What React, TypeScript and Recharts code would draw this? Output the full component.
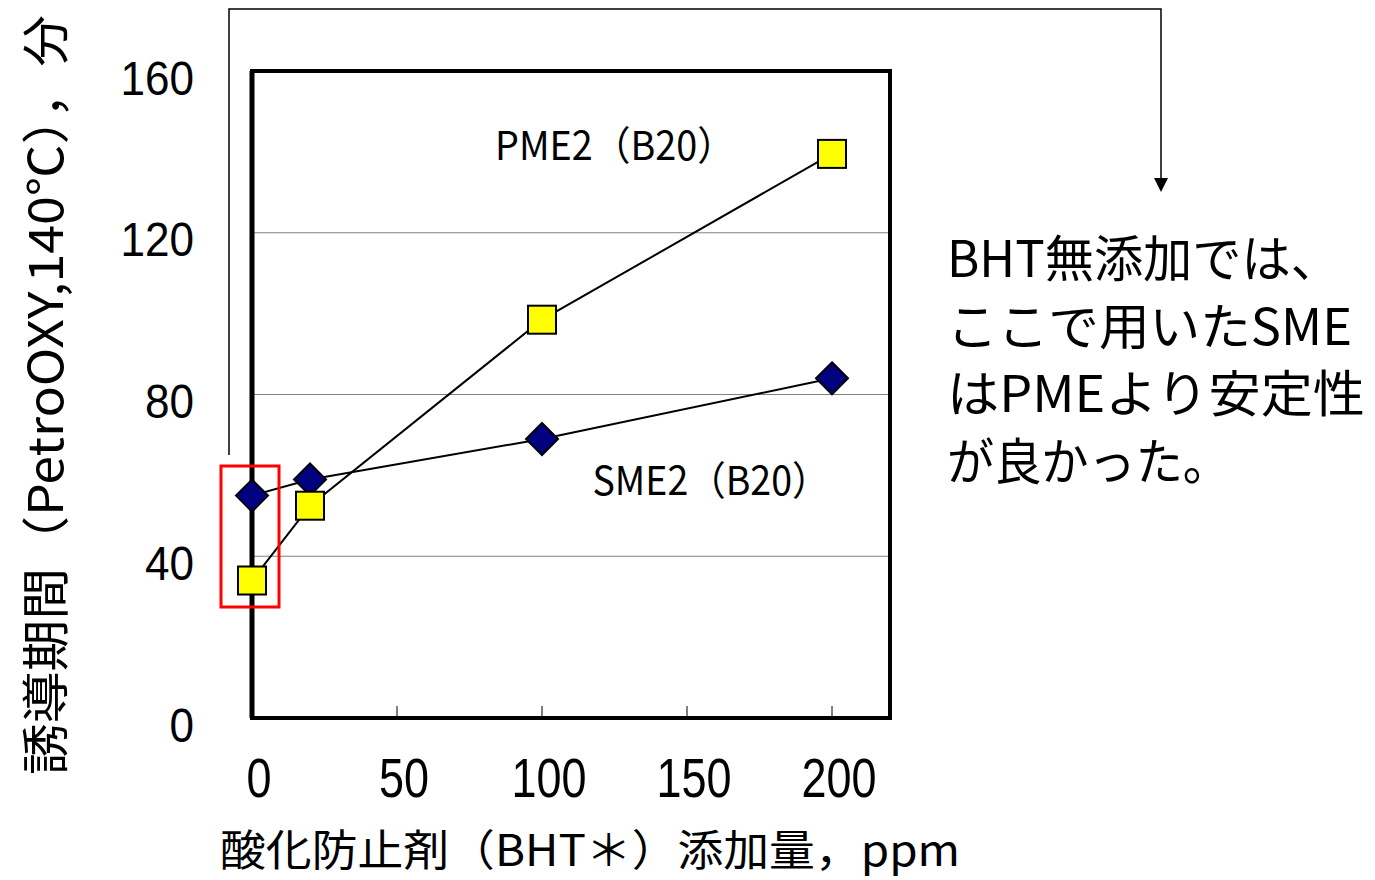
import React from 'react';
import { LineChart, Line, XAxis, YAxis, CartesianGrid, ReferenceArea } from 'recharts';

const bhtPpm = [0, 20, 100, 200];
const pme2 = [34, 52.5, 98.5, 139.5];
const sme2 = [55, 59, 69, 84];
const xTicks = [0, 50, 100, 150, 200];
const yTicks = [0, 40, 80, 120, 160];
const gridTicks = [40, 80, 120];
const noteLines = ['BHT無添加では、', 'ここで用いたSME', 'はPMEより安定性', 'が良かった。'];

const data = bhtPpm.map((x, i) => ({ x, pme: pme2[i], sme: sme2[i] }));

const JP = '"Noto Sans CJK JP", sans-serif';
const LAT = '"Liberation Sans", Arial, sans-serif';

const XTick = (props: any) => {
  const { x, y, payload } = props;
  const label = String(payload.value);
  return (
    <g>
      {payload.value !== 0 && (
        <line x1={x} x2={x} y1={y} y2={y - 12} stroke="#000" strokeWidth={1} />
      )}
      <text
        x={x + 7}
        y={y + 60}
        textAnchor="middle"
        dominantBaseline="central"
        fontFamily={LAT}
        fontSize={55}
        fill="#000"
        textLength={label.length * 25}
        lengthAdjust="spacingAndGlyphs"
      >
        {label}
      </text>
    </g>
  );
};

const YTick = (props: any) => {
  const { x, y, payload } = props;
  const label = String(payload.value);
  return (
    <text
      x={x - 58}
      y={y + 7}
      textAnchor="end"
      dominantBaseline="central"
      fontFamily={LAT}
      fontSize={48}
      fill="#000"
      textLength={label.length * 24.5}
      lengthAdjust="spacingAndGlyphs"
    >
      {label}
    </text>
  );
};

const SquareDot = (props: any) => {
  const { cx, cy } = props;
  if (cx == null || cy == null) return null;
  const s = 14;
  return <rect x={cx - s} y={cy - s} width={2 * s} height={2 * s} fill="#FFFF00" stroke="#000" strokeWidth={2} />;
};

const DiamondDot = (props: any) => {
  const { cx, cy } = props;
  if (cx == null || cy == null) return null;
  const r = 16;
  return (
    <polygon
      points={`${cx},${cy - r} ${cx + r},${cy} ${cx},${cy + r} ${cx - r},${cy}`}
      fill="#000080"
      stroke="#000"
      strokeWidth={2}
    />
  );
};

export default function App() {
  return (
    <div style={{ position: 'absolute', left: 0, top: 0, width: 1375, height: 880, background: '#fff' }}>
      <LineChart
        width={1375}
        height={880}
        data={data}
        margin={{ top: 71, right: 485, bottom: 62, left: 192 }}
      >
        <CartesianGrid horizontal vertical={false} horizontalValues={gridTicks} stroke="#808080" strokeWidth={1} />
        <XAxis
          dataKey="x"
          type="number"
          domain={[0, 220]}
          ticks={xTicks}
          height={100}
          tickSize={0}
          tickMargin={0}
          tickLine={false}
          axisLine={{ stroke: '#000', strokeWidth: 4 }}
          tick={<XTick />}
          interval={0}
        />
        <YAxis
          type="number"
          domain={[0, 160]}
          ticks={yTicks}
          width={60}
          tickSize={0}
          tickMargin={0}
          tickLine={false}
          axisLine={{ stroke: '#000', strokeWidth: 5 }}
          tick={<YTick />}
          interval={0}
        />
        <ReferenceArea x1={0} x2={220} y1={0} y2={160} fill="none" stroke="#000" strokeWidth={4} />
        <Line dataKey="sme" stroke="#000" strokeWidth={2} dot={<DiamondDot />} isAnimationActive={false} />
        <Line dataKey="pme" stroke="#000" strokeWidth={2} dot={<SquareDot />} isAnimationActive={false} />
      </LineChart>
      <svg
        width={1375}
        height={880}
        style={{ position: 'absolute', left: 0, top: 0, pointerEvents: 'none' }}
      >
        <polyline
          points="229,455 229,9 1161,9 1161,178"
          fill="none"
          stroke="#000"
          strokeWidth={1.5}
        />
        <path d="M1154,178 L1168,178 L1161,192 Z" fill="#000" />
        <rect x={221} y={466} width={58} height={141} fill="none" stroke="#FF0000" strokeWidth={3} />
        <text
          x={42}
          y={395}
          transform="rotate(-90 42 395)"
          textAnchor="middle"
          dominantBaseline="central"
          fontFamily={JP}
          fontSize={48}
          fill="#000"
          textLength={760}
          lengthAdjust="spacingAndGlyphs"
        >
          誘導期間（PetroOXY,140℃），分
        </text>
        <text
          x={590}
          y={847}
          textAnchor="middle"
          dominantBaseline="central"
          fontFamily={JP}
          fontSize={43}
          fill="#000"
          textLength={740}
          lengthAdjust="spacingAndGlyphs"
        >
          酸化防止剤（BHT＊）添加量，ppm
        </text>
        <text
          x={615}
          y={143}
          textAnchor="middle"
          dominantBaseline="central"
          fontFamily={JP}
          fontSize={40}
          fill="#000"
          textLength={240}
          lengthAdjust="spacingAndGlyphs"
        >
          PME2（B20）
        </text>
        <text
          x={711}
          y={478}
          textAnchor="middle"
          dominantBaseline="central"
          fontFamily={JP}
          fontSize={40}
          fill="#000"
          textLength={237}
          lengthAdjust="spacingAndGlyphs"
        >
          SME2（B20）
        </text>
        {noteLines.map((t, i) => (
          <text
            key={i}
            x={947}
            y={255 + i * 67.5}
            dominantBaseline="central"
            fontFamily={JP}
            fontSize={50}
            fill="#000"
            textLength={[393, 405, 418, 283][i]}
            lengthAdjust="spacingAndGlyphs"
          >
            {t}
          </text>
        ))}
      </svg>
    </div>
  );
}
